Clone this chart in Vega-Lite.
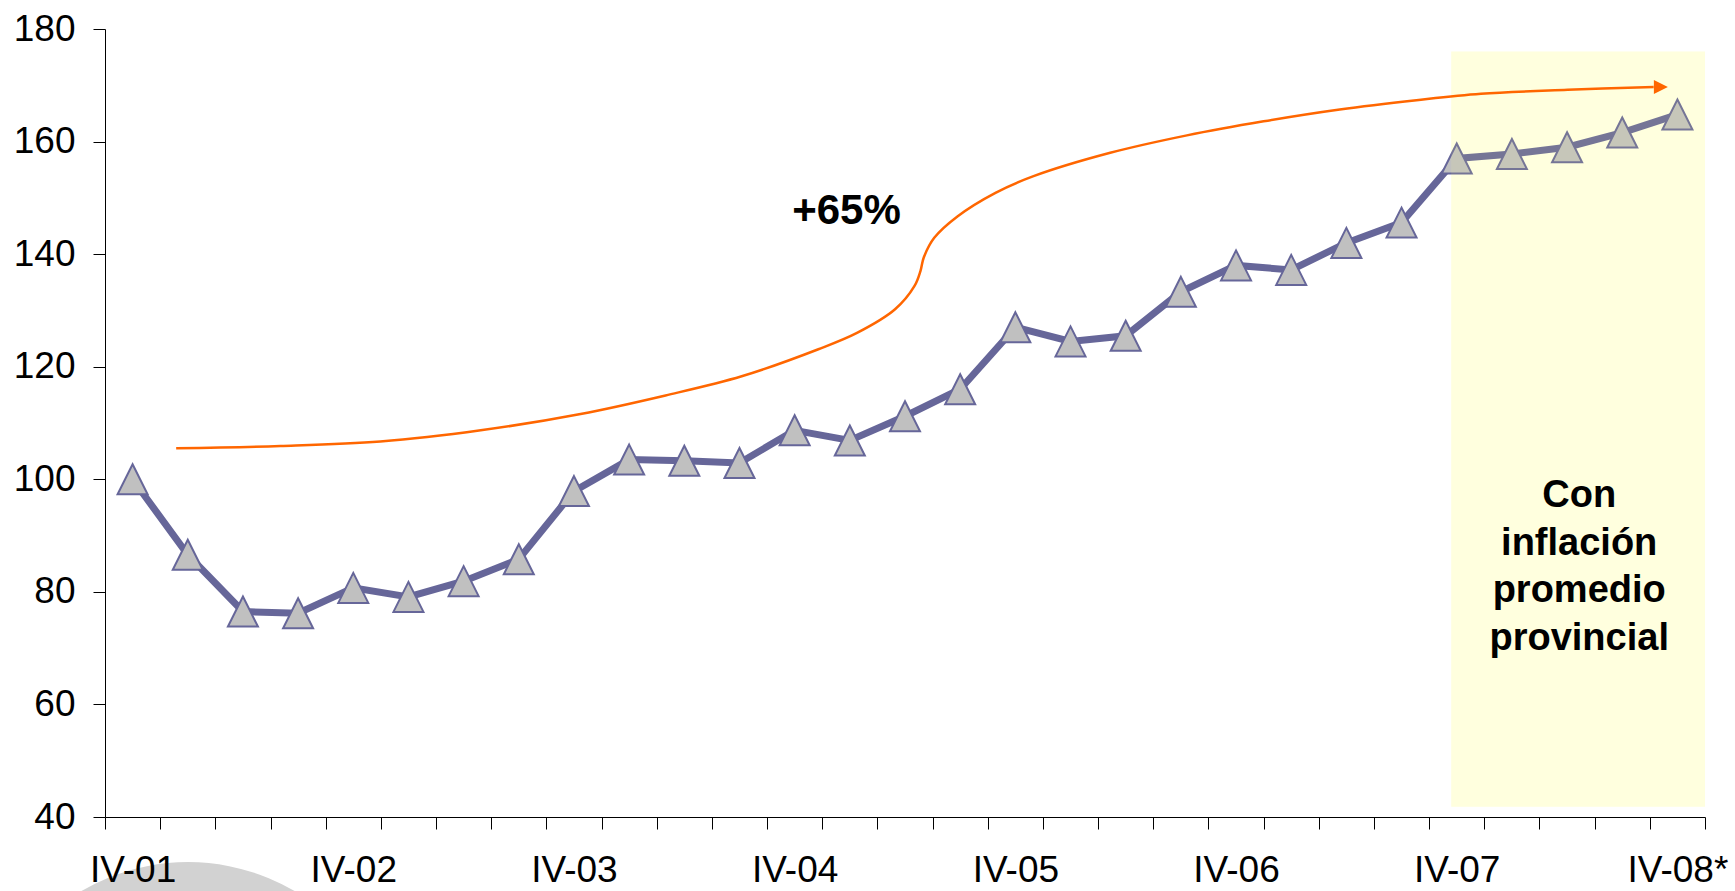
{
  "$schema": "https://vega.github.io/schema/vega-lite/v6.json",
  "width": 1600,
  "height": 788,
  "autosize": "none",
  "padding": {"left": 105, "top": 29, "right": 30, "bottom": 74},
  "background": "white",
  "config": {
    "view": {"stroke": null},
    "font": "Liberation Sans",
    "axis": {"grid": false, "domainColor": "black", "tickColor": "black", "labelColor": "black", "labelFont": "Liberation Sans", "domainWidth": 1, "tickWidth": 1}
  },
  "datasets": {
    "series": [
      {"q": "IV-01", "v": 100.0}, {"q": "I-02", "v": 86.6}, {"q": "II-02", "v": 76.5}, {"q": "III-02", "v": 76.2},
      {"q": "IV-02", "v": 80.7}, {"q": "I-03", "v": 79.1}, {"q": "II-03", "v": 81.9}, {"q": "III-03", "v": 85.8},
      {"q": "IV-03", "v": 97.9}, {"q": "I-04", "v": 103.5}, {"q": "II-04", "v": 103.3}, {"q": "III-04", "v": 102.9},
      {"q": "IV-04", "v": 108.7}, {"q": "I-05", "v": 106.9}, {"q": "II-05", "v": 111.2}, {"q": "III-05", "v": 116.0},
      {"q": "IV-05", "v": 127.0}, {"q": "I-06", "v": 124.5}, {"q": "II-06", "v": 125.5}, {"q": "III-06", "v": 133.3},
      {"q": "IV-06", "v": 138.0}, {"q": "I-07", "v": 137.2}, {"q": "II-07", "v": 142.0}, {"q": "III-07", "v": 145.6},
      {"q": "IV-07", "v": 157.0}, {"q": "I-08", "v": 157.8}, {"q": "II-08", "v": 159.0}, {"q": "III-08", "v": 161.6},
      {"q": "IV-08*", "v": 164.8}
    ],
    "curve": [
      {"u": 1.29, "v": 105.5}, {"u": 3.18, "v": 105.9}, {"u": 4.99, "v": 106.7}, {"u": 6.81, "v": 108.7},
      {"u": 8.62, "v": 111.6}, {"u": 10.16, "v": 114.9}, {"u": 11.54, "v": 118.3}, {"u": 12.93, "v": 123.1},
      {"u": 13.63, "v": 126.0}, {"u": 14.32, "v": 130.2}, {"u": 14.67, "v": 134.3}, {"u": 14.78, "v": 137.0},
      {"u": 14.84, "v": 139.4}, {"u": 15.03, "v": 142.9}, {"u": 15.45, "v": 146.7}, {"u": 16.14, "v": 150.9},
      {"u": 16.83, "v": 153.85}, {"u": 18.22, "v": 158.0}, {"u": 19.61, "v": 161.1}, {"u": 21.0, "v": 163.6},
      {"u": 22.38, "v": 165.7}, {"u": 23.77, "v": 167.35}, {"u": 24.94, "v": 168.5}, {"u": 26.51, "v": 169.2},
      {"u": 28.07, "v": 169.7}
    ],
    "arrowhead": [{"u": 28.2, "v": 169.7}],
    "band": [{"u": 24.4, "u2": 29, "v": 41.8, "v2": 176}],
    "growth": [{"u": 13.44, "v": 145.3, "t": "+65%"}],
    "note": [{"u": 26.72, "v": 95.05, "t": "Con|inflación|promedio|provincial"}],
    "logo": [{"u": 1.505, "v": -5.5}]
  },
  "layer": [
    {
      "layer": [
        {
          "data": {"name": "band"},
          "mark": {"type": "rect", "color": "#FFFFE9", "opacity": 1},
          "encoding": {
            "x": {"field": "u", "type": "quantitative", "scale": {"domain": [0, 29], "nice": false, "zero": false}, "axis": null},
            "x2": {"field": "u2"},
            "y": {"field": "v", "type": "quantitative", "scale": {"domain": [40, 180], "nice": false, "zero": false}},
            "y2": {"field": "v2"}
          }
        },
        {
          "data": {"name": "logo"},
          "mark": {"type": "arc", "radius": 211, "radius2": 180, "theta": 0, "theta2": 6.2832, "color": "#D2D2D2", "clip": false},
          "encoding": {
            "x": {"field": "u", "type": "quantitative", "axis": null},
            "y": {"field": "v", "type": "quantitative"}
          }
        }
      ]
    },
    {
      "data": {"name": "series"},
      "encoding": {
        "x": {
          "field": "q", "type": "nominal", "sort": null,
          "scale": {"type": "band", "paddingInner": 0, "paddingOuter": 0},
          "axis": {
            "title": null, "tickBand": "extent", "tickSize": 12, "labelAngle": 0,
            "labelFontSize": 37, "labelPadding": 23, "zindex": 1,
            "labelExpr": "indexof(datum.label, 'IV-') == 0 ? datum.label : ''"
          }
        },
        "y": {
          "field": "v", "type": "quantitative",
          "scale": {"domain": [40, 180], "nice": false, "zero": false},
          "axis": {"title": null, "values": [40, 60, 80, 100, 120, 140, 160, 180], "tickSize": 12, "labelFontSize": 37, "labelPadding": 18, "zindex": 1}
        }
      },
      "layer": [
        {"mark": {"type": "line", "color": "#666699", "strokeWidth": 7}},
        {"mark": {"type": "point", "shape": "M0,-1L1,1L-1,1Z", "size": 900, "filled": true, "fill": "#C0C0C0", "stroke": "#666699", "strokeWidth": 2, "opacity": 1}}
      ]
    },
    {
      "layer": [
        {
          "data": {"name": "band"},
          "mark": {"type": "rect", "color": "#FFFF80", "opacity": 0.1},
          "encoding": {
            "x": {"field": "u", "type": "quantitative", "scale": {"domain": [0, 29], "nice": false, "zero": false}, "axis": null},
            "x2": {"field": "u2"},
            "y": {"field": "v", "type": "quantitative", "scale": {"domain": [40, 180], "nice": false, "zero": false}},
            "y2": {"field": "v2"}
          }
        },
        {
          "data": {"name": "curve"},
          "mark": {"type": "line", "color": "#FF6600", "strokeWidth": 2.5, "interpolate": "catmull-rom"},
          "encoding": {
            "x": {"field": "u", "type": "quantitative", "axis": null},
            "y": {"field": "v", "type": "quantitative"}
          }
        },
        {
          "data": {"name": "arrowhead"},
          "mark": {"type": "point", "shape": "M1,0L-1,-1L-1,1Z", "size": 196, "filled": true, "fill": "#FF6600", "strokeWidth": 0, "opacity": 1},
          "encoding": {
            "x": {"field": "u", "type": "quantitative", "axis": null},
            "y": {"field": "v", "type": "quantitative"}
          }
        },
        {
          "data": {"name": "growth"},
          "mark": {"type": "text", "fontSize": 42, "fontWeight": "bold", "align": "center", "baseline": "alphabetic", "color": "black"},
          "encoding": {
            "x": {"field": "u", "type": "quantitative", "axis": null},
            "y": {"field": "v", "type": "quantitative"},
            "text": {"field": "t"}
          }
        },
        {
          "data": {"name": "note"},
          "mark": {"type": "text", "fontSize": 38, "fontWeight": "bold", "align": "center", "baseline": "alphabetic", "lineBreak": "|", "lineHeight": 47.5, "color": "black"},
          "encoding": {
            "x": {"field": "u", "type": "quantitative", "axis": null},
            "y": {"field": "v", "type": "quantitative"},
            "text": {"field": "t"}
          }
        }
      ]
    }
  ],
  "resolve": {"scale": {"x": "independent"}}
}
